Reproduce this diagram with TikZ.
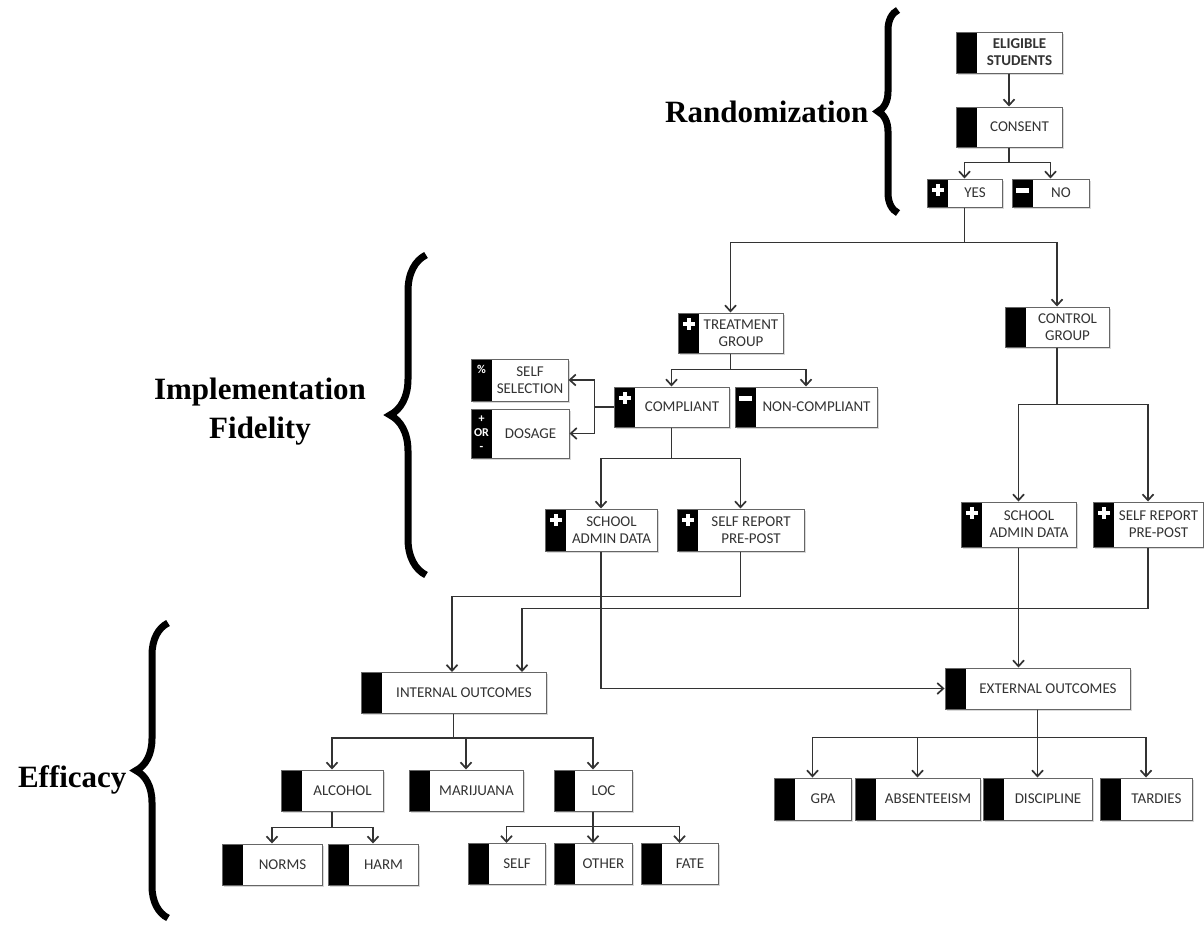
\documentclass[tikz,border=0pt]{standalone}
\usepackage{fontspec}
\setmainfont{Liberation Serif}
\newfontfamily\boxfont{Carlito}
\usetikzlibrary{arrows.meta,shadows,decorations.pathreplacing}

% marks in the black strip
\newcommand\plusmark{\fill[white] ([shift={(8.5pt,-5pt)}]path picture bounding box.north west) rectangle ++(4pt,-12pt);
  \fill[white] ([shift={(4.5pt,-9pt)}]path picture bounding box.north west) rectangle ++(12pt,-4pt);}
\newcommand\minusmark{\fill[white] ([shift={(4pt,-9pt)}]path picture bounding box.north west) rectangle ++(13pt,-5pt);}
\newcommand\pctmark{\node[white,font=\boxfont\bfseries\fontsize{12}{12}\selectfont] at ([shift={(10.5pt,-10pt)}]path picture bounding box.north west) {\%};}
\newcommand\pmmark{\node[white,align=center,font=\boxfont\bfseries\fontsize{12}{14}\selectfont] at ([xshift=10.5pt]path picture bounding box.west) {+\\OR\\-};}
\newcommand\boxtext[2]{\hspace*{21pt}\parbox{\dimexpr#1-21pt\relax}{\centering#2}}

\tikzset{
  box/.style={draw=black!60, line width=1pt, fill=white, inner sep=0pt,
    minimum height=41pt, text=black!80,
    font=\boxfont\fontsize{15}{17}\selectfont,
    drop shadow={shadow xshift=1.5pt,shadow yshift=-1.5pt,opacity=.3},
    path picture={\fill[black] (path picture bounding box.north west)
      rectangle ([xshift=21pt]path picture bounding box.south west); #1}},
  box/.default={},
  arr/.style={-{Straight Barb[length=6pt,width=11pt,line width=1.7pt]}, line width=1.1pt, black!80},
  curly/.style={decorate, decoration={brace, amplitude=#1}, line width=7pt},
  stage/.style={font=\bfseries\fontsize{31}{39}\selectfont, align=center},
}

\begin{document}
\begin{tikzpicture}[x=1pt,y=-1pt]
  \useasboundingbox (0,0) rectangle (1204,932);

  % randomization
  \node[box] (elig) at (1009,52.5) {\boxtext{106pt}{\bfseries ELIGIBLE\\STUDENTS}};
  \node[box, minimum height=40pt] (consent) at (1009,127) {\boxtext{106pt}{CONSENT}};
  \node[box=\plusmark, minimum height=28pt] (yes) at (964.5,193) {\boxtext{75pt}{YES}};
  \node[box=\minusmark, minimum height=28pt] (no) at (1050.5,193) {\boxtext{77pt}{NO}};

  % groups
  \node[box=\plusmark, minimum height=40pt] (treat) at (730.5,333) {\boxtext{105pt}{TREATMENT\\GROUP}};
  \node[box, minimum height=40pt] (control) at (1057,327) {\boxtext{104pt}{CONTROL\\GROUP}};
  \node[box=\plusmark, minimum height=40pt] (compliant) at (671.5,407) {\boxtext{115pt}{COMPLIANT}};
  \node[box=\minusmark, minimum height=40pt] (noncomp) at (806,407) {\boxtext{142pt}{NON-COMPLIANT}};
  \node[box=\pctmark, minimum height=42pt] (selfsel) at (519.5,380) {\boxtext{97pt}{SELF\\SELECTION}};
  \node[box=\pmmark, minimum height=49pt] (dosage) at (520,433.5) {\boxtext{98pt}{DOSAGE}};

  % data sources
  \node[box=\plusmark, minimum height=42pt] (schoolL) at (601,530) {\boxtext{112pt}{SCHOOL\\ADMIN DATA}};
  \node[box=\plusmark, minimum height=42pt] (reportL) at (740.5,530) {\boxtext{127pt}{SELF REPORT\\PRE-POST}};
  \node[box=\plusmark, minimum height=45pt] (schoolR) at (1018.5,524.5) {\boxtext{115pt}{SCHOOL\\ADMIN DATA}};
  \node[box=\plusmark, minimum height=45pt] (reportR) at (1148,524.5) {\boxtext{110pt}{SELF REPORT\\PRE-POST}};

  % outcomes
  \node[box] (internal) at (453.5,693) {\boxtext{185pt}{INTERNAL OUTCOMES}};
  \node[box] (external) at (1037.5,688.5) {\boxtext{185pt}{EXTERNAL OUTCOMES}};
  \node[box] (alcohol) at (332,790.5) {\boxtext{102pt}{ALCOHOL}};
  \node[box] (marijuana) at (466,790.5) {\boxtext{114pt}{MARIJUANA}};
  \node[box] (loc) at (593,790.5) {\boxtext{78pt}{LOC}};
  \node[box] (norms) at (272,864.5) {\boxtext{100pt}{NORMS}};
  \node[box] (harm) at (373,864.5) {\boxtext{90pt}{HARM}};
  \node[box] (self) at (506.5,864) {\boxtext{77pt}{SELF}};
  \node[box] (other) at (593,864) {\boxtext{78pt}{OTHER}};
  \node[box] (fate) at (679.5,864) {\boxtext{77pt}{FATE}};
  \node[box, minimum height=42pt] (gpa) at (812.5,799) {\boxtext{77pt}{GPA}};
  \node[box, minimum height=42pt] (absent) at (917.5,799) {\boxtext{125pt}{ABSENTEEISM}};
  \node[box, minimum height=42pt] (discipline) at (1037.5,799) {\boxtext{109pt}{DISCIPLINE}};
  \node[box, minimum height=42pt] (tardies) at (1146,799) {\boxtext{92pt}{TARDIES}};

  % connectors
  \draw[arr] (elig) -- (consent);
  \draw[arr] (consent.south) -- ++(0,15) -| (yes.north);
  \draw[arr] (consent.south) -- ++(0,15) -| (no.north);
  \draw[arr] (yes.south) -- ++(0,35) -| (treat.north);
  \draw[arr] (yes.south) -- ++(0,35) -| (control.north);
  \draw[arr] (treat.south) -- ++(0,16) -| (compliant.north);
  \draw[arr] (treat.south) -- ++(0,16) -| (noncomp.north);
  \draw[arr] (compliant.west) -- ++(-19,0) |- (selfsel.east);
  \draw[arr] (compliant.west) -- ++(-19,0) |- (dosage.east);
  \draw[arr] (compliant.south) -- ++(0,31) -| (schoolL.north);
  \draw[arr] (compliant.south) -- ++(0,31) -| (reportL.north);
  \draw[arr] (control.south) -- ++(0,57) -| (schoolR.north);
  \draw[arr] (control.south) -- ++(0,57) -| (reportR.north);
  \draw[arr] (reportL.south) -- ++(0,45) -| ([xshift=-1.5pt]internal.north);
  \draw[arr] (reportR.south) -- ++(0,61) -| ([xshift=68.5pt]internal.north);
  \draw[arr] (schoolL.south) |- (external.west);
  \draw[arr] (schoolR.south) -- (schoolR.south |- external.north);
  \draw[arr] (internal.south) -- ++(0,24) -| (alcohol.north);
  \draw[arr] (internal.south) -- ++(0,24) -| (marijuana.north);
  \draw[arr] (internal.south) -- ++(0,24) -| (loc.north);
  \draw[arr] (alcohol.south) -- ++(0,16) -| (norms.north);
  \draw[arr] (alcohol.south) -- ++(0,16) -| (harm.north);
  \draw[arr] (loc.south) -- ++(0,15) -| (self.north);
  \draw[arr] (loc.south) -- (other.north);
  \draw[arr] (loc.south) -- ++(0,15) -| (fate.north);
  \draw[arr] (external.south) -- ++(0,28) -| (gpa.north);
  \draw[arr] (external.south) -- ++(0,28) -| (absent.north);
  \draw[arr] (external.south) -- ++(0,28) -| (discipline.north);
  \draw[arr] (external.south) -- ++(0,28) -| (tardies.north);

  % stages
  \draw[curly=20pt] (898,213) -- (898,10);
  \node[stage, anchor=east] (rand) at (872,112) {Randomization};
  \draw[curly=36pt] (426,575) -- (426,255);
  \node[stage] (impl) at (260,412) {Implementation\\Fidelity};
  \draw[curly=32pt] (168,918) -- (168,623);
  \node[stage, anchor=east] (eff) at (130,780) {Efficacy};
\end{tikzpicture}
\end{document}
